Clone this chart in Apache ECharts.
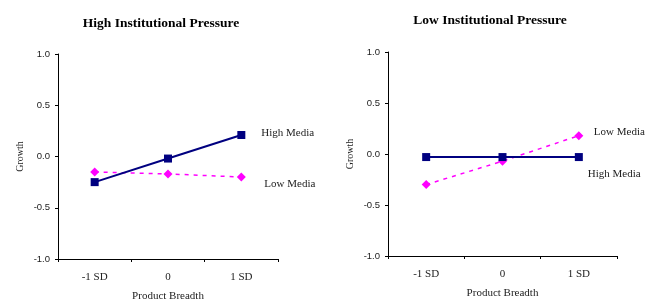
<!DOCTYPE html>
<html lang="en">
  <head>
    <meta charset="UTF-8" />
    <title>Institutional Pressure</title>
    <script src="https://cdn.jsdelivr.net/npm/echarts@6.0.0/dist/echarts.min.js"></script>
    <style>
      body { margin: 0; background: #fff; }
      #main { width: 656px; height: 302px; }
    </style>
  </head>
  <body>
    <div id="main"></div>
    <script>
      // 数据
      const categories = ["-1 SD", "0", "1 SD"];
      const highPressureHighMedia = [-0.25, -0.02, 0.21];
      const highPressureLowMedia = [-0.15, -0.17, -0.20];
      const lowPressureHighMedia = [-0.03, -0.03, -0.03];
      const lowPressureLowMedia = [-0.30, -0.07, 0.18];

      const font = "Liberation Serif";
      const textColor = "#222";

      function xAxisOf(idx) {
        return {
          type: "category",
          gridIndex: idx,
          data: categories,
          boundaryGap: true,
          name: "Product Breadth",
          nameLocation: "middle",
          nameGap: 32,
          nameTextStyle: { fontFamily: font, fontSize: 11, color: textColor },
          axisLine: { onZero: false, lineStyle: { color: "#000", width: 1 } },
          axisTick: { show: true, length: 3, lineStyle: { color: "#000" } },
          axisLabel: { fontFamily: font, fontSize: 11, color: textColor, margin: 13 },
          splitLine: { show: false },
        };
      }

      function yAxisOf(idx) {
        return {
          type: "value",
          gridIndex: idx,
          min: -1,
          max: 1,
          interval: 0.5,
          name: "Growth",
          nameLocation: "middle",
          nameGap: 33,
          nameRotate: 90,
          nameTextStyle: { fontFamily: font, fontSize: 10, color: textColor },
          axisLine: { show: true, onZero: false, lineStyle: { color: "#000", width: 1 } },
          axisTick: { show: true, length: 3, lineStyle: { color: "#000" } },
          axisLabel: {
            fontFamily: "Liberation Sans", fontSize: 9.5, color: textColor, margin: 8,
            formatter: v => v.toFixed(1),
          },
          splitLine: { show: false },
        };
      }

      function highSeries(idx, data, offset) {
        return {
          name: "High Media",
          type: "line",
          xAxisIndex: idx,
          yAxisIndex: idx,
          data: data,
          symbol: "rect",
          symbolSize: 8,
          itemStyle: { color: "#000080" },
          lineStyle: { color: "#000080", width: 2 },
          endLabel: {
            show: true, formatter: "High Media", distance: 0, offset: offset,
            fontFamily: font, fontSize: 11, color: textColor,
          },
          z: 3,
        };
      }

      function lowSeries(idx, data, offset) {
        return {
          name: "Low Media",
          type: "line",
          xAxisIndex: idx,
          yAxisIndex: idx,
          data: data,
          symbol: "diamond",
          symbolSize: 9,
          itemStyle: { color: "#FF00FF" },
          lineStyle: { color: "#FF00FF", width: 1.5, type: [4, 5] },
          endLabel: {
            show: true, formatter: "Low Media", distance: 0, offset: offset,
            fontFamily: font, fontSize: 11, color: textColor,
          },
          z: 2,
        };
      }

      const chart = echarts.init(document.getElementById("main"));
      chart.setOption({
        animation: false,
        title: [
          {
            text: "High Institutional Pressure",
            left: 156, top: 12, textAlign: "center",
            textStyle: { fontFamily: font, fontSize: 13.5, fontWeight: "bold", color: "#000" },
          },
          {
            text: "Low Institutional Pressure",
            left: 485, top: 9, textAlign: "center",
            textStyle: { fontFamily: font, fontSize: 13.5, fontWeight: "bold", color: "#000" },
          },
        ],
        grid: [
          { left: 58, top: 54, width: 220, height: 205, containLabel: false, outerBoundsMode: "none" },
          { left: 388, top: 52, width: 229, height: 204, containLabel: false, outerBoundsMode: "none" },
        ],
        xAxis: [xAxisOf(0), xAxisOf(1)],
        yAxis: [yAxisOf(0), yAxisOf(1)],
        series: [
          highSeries(0, highPressureHighMedia, [20, -2]),
          lowSeries(0, highPressureLowMedia, [23, 7]),
          highSeries(1, lowPressureHighMedia, [9, 17]),
          lowSeries(1, lowPressureLowMedia, [15, -4]),
        ],
      });
    </script>
  </body>
</html>
